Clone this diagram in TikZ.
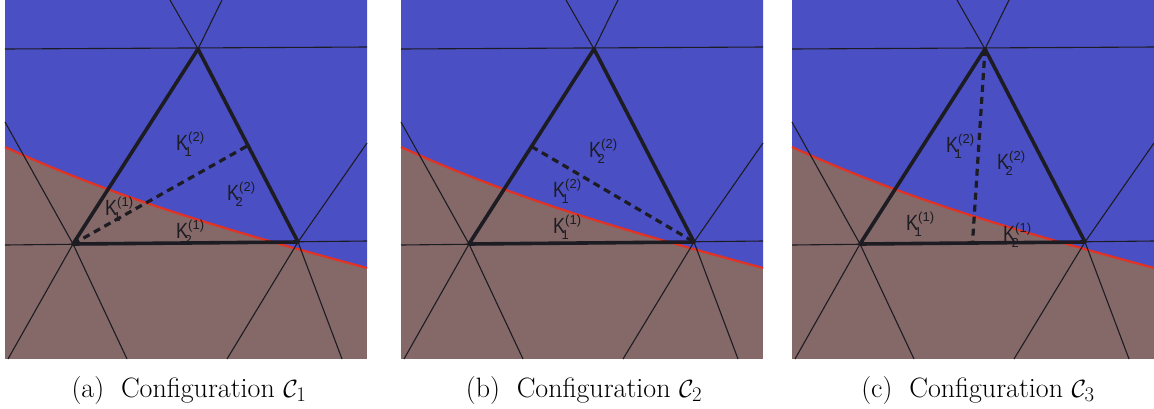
\documentclass[tikz,border=0pt]{standalone}
\usepackage{fontspec}
\usepackage{graphicx}
\usetikzlibrary{calc}
\newfontfamily\labfont{Liberation Sans}
\definecolor{regblue}{RGB}{74,79,196}
\definecolor{regbrown}{RGB}{133,104,104}
\definecolor{redline}{RGB}{226,50,36}
\definecolor{inkc}{RGB}{28,28,34}
\newcommand{\Klab}[2]{\scalebox{0.82}[1]{K}\rlap{\raisebox{8.5pt}{\fontsize{13}{13}\selectfont(#2)}}\kern-3.5pt\raisebox{-6pt}{\fontsize{13}{13}\selectfont #1}}
\newcommand{\boundary}{(0,147) .. controls (120,202) and (240,235) .. (362,268)}
\newcommand{\meshbg}{%
  \fill[regbrown] (0,0) rectangle (362,359);
  \fill[regblue] (0,0) -- \boundary -- (362,0) -- cycle;
  \draw[redcurve] \boundary;
}
\newcommand{\meshlines}[1]{%
  \coordinate (#1T) at (193,49);
  \coordinate (#1BL) at (68,244);
  \coordinate (#1BR) at (293,242);
  \draw[meshline] (0,49) -- (362,47);
  \draw[meshline] (0,245) -- (362,241);
  \draw[meshline] (0,122) -- (#1BL) -- (122,359);
  \draw[meshline] (3,359) -- (#1BL) -- (#1T) -- (217,0);
  \draw[meshline] (165,0) -- (#1T) -- (#1BR) -- (337,359);
  \draw[meshline] (362,143) -- (#1BR) -- (222,359);
  \draw[thickedge] (#1T) -- (#1BL) -- (#1BR) -- cycle;
}
\tikzset{
  meshline/.style={draw=inkc, line width=1.1pt},
  thickedge/.style={draw=inkc, line width=3.6pt, line join=round},
  dashedge/.style={draw=inkc, line width=3.2pt, dash pattern=on 7pt off 5pt},
  redcurve/.style={draw=redline, line width=2.2pt},
  klabel/.style={anchor=base west, inner sep=0pt, text=inkc, font=\labfont\fontsize{22}{22}\selectfont},
  caption/.style={anchor=base, inner sep=0pt, font=\fontsize{28}{33}\selectfont}
}
\begin{document}
\begin{tikzpicture}[x=1pt, y=-1pt]
\useasboundingbox (0,0) rectangle (1154,408);
\fill[white] (0,0) rectangle (1154,408);
% ---------- panel (a)
\begin{scope}[shift={(5,0)}]
  \meshbg
  \node[klabel] (a12) at (171,150) {\Klab{1}{2}};
  \node[klabel] (a22) at (222,200) {\Klab{2}{2}};
  \node[klabel] (a11) at (100,215) {\Klab{1}{1}};
  \node[klabel] (a21) at (171,238) {\Klab{2}{1}};
  \meshlines{a}
  \coordinate (aMR) at ($(aT)!0.5!(aBR)$);
  \draw[dashedge] (aBL) -- (aMR);
\end{scope}
% ---------- panel (b)
\begin{scope}[shift={(401,0)}]
  \meshbg
  \node[klabel] (b22) at (188,157) {\Klab{2}{2}};
  \node[klabel] (b12) at (152,197) {\Klab{1}{2}};
  \node[klabel] (b11) at (152,233) {\Klab{1}{1}};
  \meshlines{b}
  \coordinate (bML) at ($(bT)!0.5!(bBL)$);
  \draw[dashedge] (bML) -- (bBR);
\end{scope}
% ---------- panel (c)
\begin{scope}[shift={(792,0)}]
  \meshbg
  \node[klabel] (c12) at (154,152) {\Klab{1}{2}};
  \node[klabel] (c22) at (205,169) {\Klab{2}{2}};
  \node[klabel] (c11) at (114,230) {\Klab{1}{1}};
  \node[klabel] (c21) at (211,241) {\Klab{2}{1}};
  \meshlines{c}
  \coordinate (cMB) at ($(cBL)!0.5!(cBR)$);
  \draw[dashedge] (cT) -- (cMB);
\end{scope}
% ---------- captions
\node[caption] (capa) at (189,397) {(a)\hspace{0.6em}Configuration $\mathcal{C}_1$};
\node[caption] (capb) at (584,397) {(b)\hspace{0.6em}Configuration $\mathcal{C}_2$};
\node[caption] (capc) at (978,397) {(c)\hspace{0.6em}Configuration $\mathcal{C}_3$};
\end{tikzpicture}
\end{document}
